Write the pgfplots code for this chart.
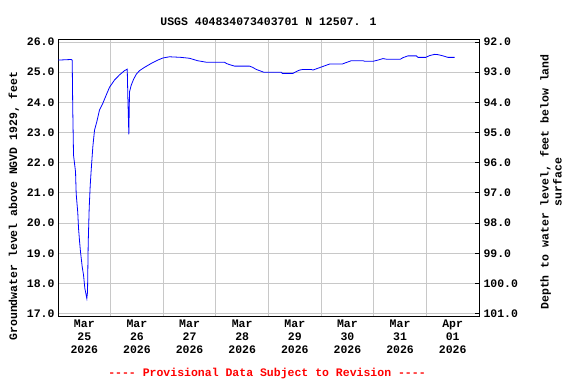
\documentclass[border=0pt]{standalone}
\usepackage{fontspec}
\setmainfont{Liberation Mono}
\usepackage{pgfplots}
\pgfplotsset{compat=1.18}
\newcommand\myf{\fontsize{11.5}{13}\selectfont\bfseries}
\definecolor{gridgray}{RGB}{200,200,200}
\begin{document}
\begin{tikzpicture}[x=1pt,y=1pt]
\path[use as bounding box] (0,0) rectangle (576,384);
\begin{axis}[
  at={(58pt,68pt)}, anchor=south west,
  scale only axis, width=421pt, height=276pt,
  xmin=0, xmax=8, ymin=16.92, ymax=26.066,
  axis line style={black, line width=1pt},
  xtick={0,...,8}, xticklabels={},
  major tick length=0pt,
  extra x ticks={0.5,1.5,...,7.5},
  extra x tick labels={Mar\\25\\2026,Mar\\26\\2026,Mar\\27\\2026,Mar\\28\\2026,Mar\\29\\2026,Mar\\30\\2026,Mar\\31\\2026,Apr\\01\\2026},
  extra x tick style={grid=none, major tick length=0pt},
  xticklabel style={font=\myf, align=center},
  ytick={17,...,26},
  yticklabel style={font=\myf},
  /pgf/number format/.cd, fixed, fixed zerofill, precision=1, assume math mode=true, /pgfplots/.cd,
  grid=major,
  major grid style={gridgray, line width=0.9pt},
  tick align=inside,
  clip=true,
]
\addplot[blue, line width=0.8pt] coordinates {
(0.00,25.40) (0.25,25.42) (0.27,25.40) (0.28,23.82) (0.295,22.25) (0.333,21.70)
(0.346,20.96) (0.376,20.34) (0.39,19.83) (0.409,19.41) (0.428,19.04) (0.46,18.55)
(0.485,18.28) (0.51,17.84) (0.548,17.50) (0.561,17.72) (0.574,19.33) (0.593,20.51)
(0.612,21.24) (0.631,21.76) (0.662,22.53) (0.694,23.08) (0.738,23.36) (0.789,23.75)
(0.852,23.97) (0.916,24.24) (0.979,24.50) (1.074,24.74) (1.169,24.91) (1.264,25.05)
(1.316,25.10) (1.327,24.19) (1.346,22.94) (1.359,24.35) (1.392,24.57) (1.435,24.76)
(1.487,24.93) (1.549,25.05) (1.644,25.16) (1.772,25.29) (1.897,25.40) (1.992,25.47)
(2.12,25.51) (2.342,25.49) (2.50,25.46) (2.557,25.43) (2.652,25.38) (2.817,25.33)
(3.165,25.33) (3.198,25.29) (3.260,25.25) (3.355,25.20) (3.64,25.20) (3.698,25.16)
(3.768,25.09) (3.831,25.05) (3.907,25.00) (4.243,25.00) (4.262,24.96) (4.464,24.96)
(4.529,25.02) (4.591,25.07) (4.654,25.09) (4.814,25.09) (4.844,25.07) (4.876,25.09)
(4.971,25.15) (5.067,25.21) (5.162,25.27) (5.403,25.27) (5.447,25.30) (5.574,25.38)
(5.795,25.38) (5.827,25.36) (5.985,25.36) (6.08,25.40) (6.175,25.45) (6.24,25.43)
(6.506,25.43) (6.555,25.48) (6.65,25.54) (6.81,25.54) (6.84,25.49) (6.987,25.49)
(7.063,25.55) (7.158,25.59) (7.221,25.58) (7.316,25.54) (7.41,25.49) (7.538,25.49)
};
\end{axis}
\begin{axis}[
  at={(58pt,68pt)}, anchor=south west,
  scale only axis, width=421pt, height=276pt,
  xmin=0, xmax=8, ymin=91.934, ymax=101.08, y dir=reverse,
  axis y line*=right, axis x line=none,
  axis line style={black, line width=1pt},
  ytick={92,...,101},
  yticklabel style={font=\myf, anchor=west, xshift=1pt},
  /pgf/number format/.cd, fixed, fixed zerofill, precision=1, assume math mode=true, /pgfplots/.cd,
  tick align=inside, major tick length=4pt,
  major tick style={black, line width=0.8pt},
]
\addplot[draw=none] coordinates {(0,95)};
\end{axis}
\node[font=\myf] at (268.5,362) {USGS 404834073403701 N 12507. 1};
\node[font=\myf, rotate=90] at (14,178) {Groundwater level above NGVD 1929, feet};
\node[font=\myf, rotate=90, align=center] at (551,202) {Depth to water level, feet below land\\surface};
\node[font=\myf, text=red] at (267,10) {{-}{-}{-}{-} Provisional Data Subject to Revision {-}{-}{-}{-}};
\end{tikzpicture}
\end{document}
